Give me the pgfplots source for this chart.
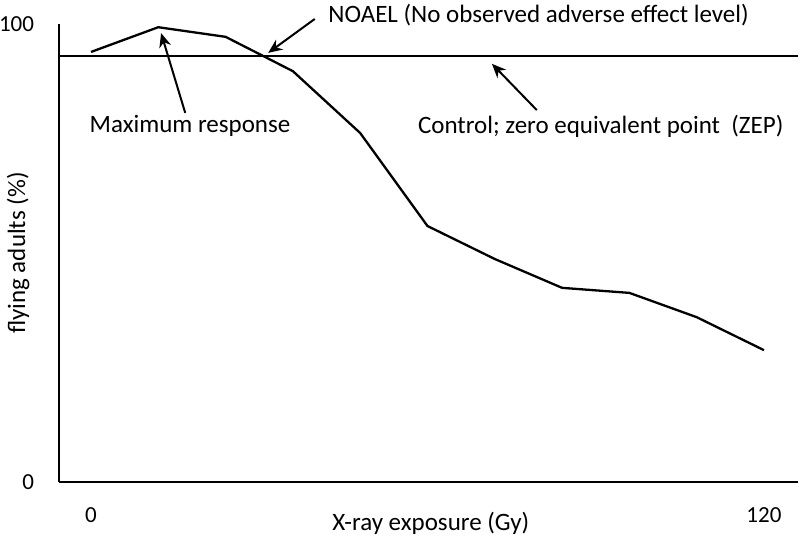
\documentclass[border=0pt]{standalone}
\usepackage{fontspec}
\setmainfont{Carlito}
\usepackage{pgfplots}
\pgfplotsset{compat=1.18}
\usetikzlibrary{arrows.meta}
\begin{document}
\begin{tikzpicture}[font=\fontsize{12.5}{15}\selectfont]
\begin{axis}[
  scale only axis, width=369.5pt, height=229pt,
  xmin=-5.7, xmax=126.1, ymin=0, ymax=100,
  axis lines=left, axis line style={line width=1.3pt, -},
  xtick={0,120}, ytick={0,100},
  major tick length=0pt,
  tick label style={font=\fontsize{11.5}{14}\selectfont},
  /pgf/number format/assume math mode=true,
  xticklabel style={yshift=-9pt},
  yticklabel style={xshift=-9pt},
  clip=false,
]
% corners of the whole picture (800x544 px)
\coordinate (bl) at (axis cs:-16.23,-13.54);
\coordinate (tr) at (axis cs:126.43,105.24);
% control line (ZEP)
\addplot[black, line width=1.1pt] coordinates {(-5.7,93.0) (126.1,93.0)};
% response curve
\addplot[black, line width=1.15pt] coordinates {
(0,93.9) (12,99.3) (24,97.2) (36,89.7) (48,76.2) (60,55.9)
(72,48.7) (84,42.4) (96,41.3) (108,36.0) (120,28.8)};
% labels
\node at (axis description cs:0.503,0) [yshift=-20.5pt] {X-ray exposure (Gy)};
\node at (axis description cs:0,0.5) [xshift=-20.5pt, rotate=90] {flying adults (\%)};
% annotations
\node at (axis cs:79.8,102.0) {NOAEL (No observed adverse effect level)};
\draw[line width=1pt, -{Stealth[length=7pt,width=6pt]}] (axis cs:39.9,101.1) -- (axis cs:31.6,93.7);
\node at (axis cs:17.65,77.7) {Maximum response};
\draw[line width=1pt, -{Stealth[length=7pt,width=6pt]}] (axis cs:16.8,80.6) -- (axis cs:12.5,98.0);
\node at (axis cs:90.9,77.7) {Control; zero equivalent point\ \ (ZEP)};
\draw[line width=1pt, -{Stealth[length=7pt,width=6pt]}] (axis cs:79.5,81.2) -- (axis cs:71.5,91.3);
\end{axis}
\pgfresetboundingbox
\path (bl) rectangle (tr);
\end{tikzpicture}
\end{document}
